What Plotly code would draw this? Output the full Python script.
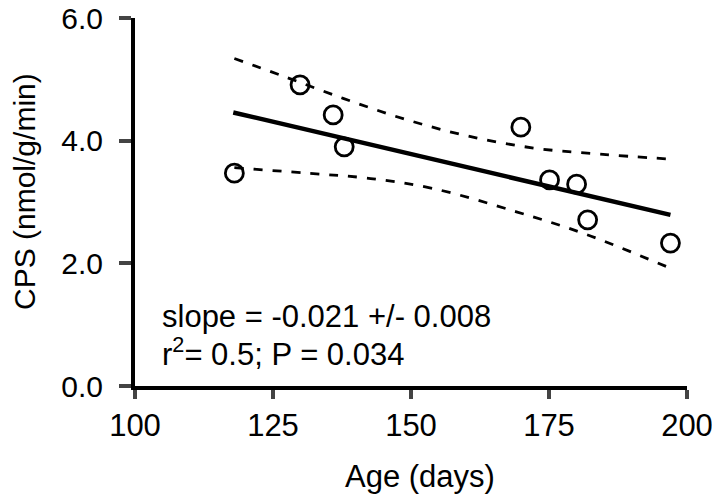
import plotly.graph_objects as go

# Data points
age = [118.0, 129.9, 135.9, 137.9, 169.9, 175.1, 180.0, 182.0, 197.0]
cps = [3.47, 4.91, 4.42, 3.90, 4.22, 3.36, 3.29, 2.71, 2.33]

# Regression line
fit_x = [117.8, 197.0]
fit_y = [4.46, 2.79]

# Confidence band, upper
up_x = [118.0, 126.3, 137.7, 148.9, 160.1, 172.2, 184.2, 197.0]
up_y = [5.34, 5.07, 4.69, 4.35, 4.08, 3.88, 3.78, 3.70]

# Confidence band, lower
lo_x = [118.0, 131.1, 142.0, 154.0, 169.1, 181.2, 197.0]
lo_y = [3.56, 3.47, 3.39, 3.22, 2.84, 2.49, 1.92]

x_ticks = [100, 125, 150, 175, 200]
y_ticks = [0, 2, 4, 6]
y_tick_labels = ["0.0", "2.0", "4.0", "6.0"]

FONT = "Liberation Sans, Arial, sans-serif"

fig = go.Figure()
fig.add_trace(go.Scatter(x=up_x, y=up_y, mode="lines", line=dict(color="black", width=2.8, dash="9px,10px", shape="spline"), showlegend=False))
fig.add_trace(go.Scatter(x=lo_x, y=lo_y, mode="lines", line=dict(color="black", width=2.8, dash="9px,10px", shape="spline"), showlegend=False))
fig.add_trace(go.Scatter(x=fit_x, y=fit_y, mode="lines", line=dict(color="black", width=4.5), showlegend=False))
fig.add_trace(go.Scatter(x=age, y=cps, mode="markers",
                         marker=dict(symbol="circle-open", size=18, color="black", line=dict(width=2.8, color="black")),
                         showlegend=False))

fig.add_annotation(x=104.5, y=1.14, xref="x", yref="y", text="slope = -0.021 +/- 0.008",
                   showarrow=False, xanchor="left", yanchor="middle", font=dict(size=31, color="black", family=FONT))
fig.add_annotation(x=104.5, y=0.55, xref="x", yref="y", text="r<sup>2</sup>= 0.5; P = 0.034",
                   showarrow=False, xanchor="left", yanchor="middle", font=dict(size=31, color="black", family=FONT))

# Axis titles
fig.add_annotation(x=151.6, y=0, xref="x", yref="paper", text="Age (days)", showarrow=False,
                   xanchor="center", yanchor="middle", yshift=-90,
                   font=dict(size=31, color="black", family=FONT))
fig.add_annotation(x=0, y=0.5, xref="paper", yref="paper", text="CPS (nmol/g/min)", showarrow=False,
                   textangle=-90, xanchor="center", yanchor="middle", xshift=-111, yshift=10,
                   font=dict(size=30, color="black", family=FONT))

fig.update_layout(
    width=720, height=494,
    margin=dict(l=127, r=41, t=10, b=116),
    plot_bgcolor="white", paper_bgcolor="white",
    font=dict(family=FONT, size=30, color="black"),
    xaxis=dict(range=[100, 200], tickvals=x_ticks, ticks="outside", ticklen=9, tickwidth=3.5,
               showline=True, linewidth=4, linecolor="black", showgrid=False, zeroline=False,
               tickfont=dict(size=31), ticklabeloverflow="allow", automargin=False),
    yaxis=dict(range=[0, 6], tickvals=y_ticks, ticktext=y_tick_labels, ticks="outside", ticklen=12, tickwidth=3.5,
               showline=True, linewidth=4, linecolor="black", showgrid=False, zeroline=False,
               tickfont=dict(size=30), ticklabelstandoff=10, ticklabeloverflow="allow", automargin=False),
)

fig.write_html("out.html")
